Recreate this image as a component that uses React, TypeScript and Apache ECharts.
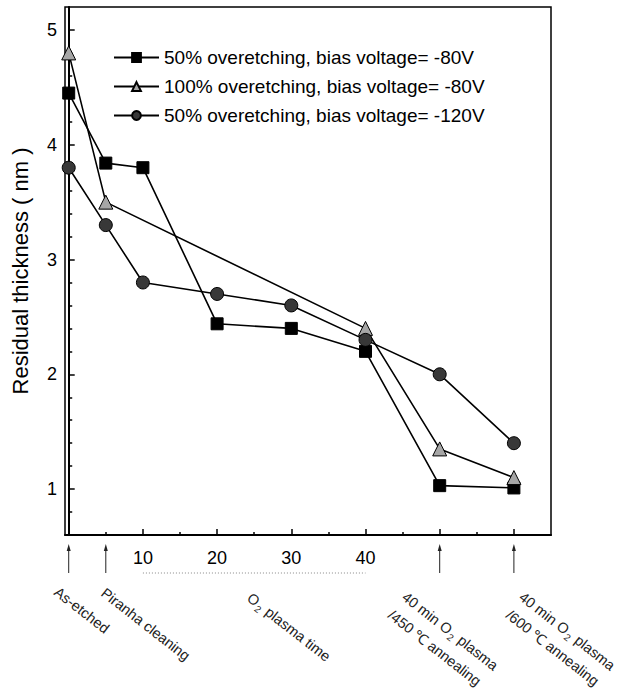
import React, { useEffect, useRef } from "react";
import * as echarts from "echarts";

const FONT = "'Liberation Sans', Arial, Helvetica, sans-serif";

// x positions of the process steps (0 = as-etched, 5 = piranha, 10..40 = O2 plasma time, 50/60 = annealed)
const xSteps = [0, 5, 10, 20, 30, 40, 50, 60];
const seriesNames = [
  "50% overetching, bias voltage= -80V",
  "100% overetching, bias voltage= -80V",
  "50% overetching, bias voltage= -120V",
];
const sq80 = [4.45, 3.84, 3.8, 2.44, 2.4, 2.2, 1.03, 1.01];
const triX = [0, 5, 40, 50, 60];
const tri80 = [4.8, 3.5, 2.4, 1.35, 1.1];
const circ120 = [3.8, 3.3, 2.8, 2.7, 2.6, 2.3, 2.0, 1.4];

const yMajor = [1, 2, 3, 4, 5];
const yMinor = [0.8, 1.2, 1.4, 1.6, 1.8, 2.2, 2.4, 2.6, 2.8, 3.2, 3.4, 3.6, 3.8, 4.2, 4.4, 4.6, 4.8];
const xMajorTicks = [0, 10, 20, 30, 40, 50, 60];
const xMinorTicks = [5, 15, 25, 35, 45, 55];
const xLabels = [10, 20, 30, 40];
const arrowSteps = [0, 5, 50, 60];
const plasmaRange = [10, 40];

const Y_MIN = 0.6;
const Y_MAX = 5.2;
const X_MIN = -0.5;
const X_MAX = 65;

export default function App() {
  const ref = useRef<HTMLDivElement>(null);
  useEffect(() => {
    if (!ref.current) return;
    const chart = echarts.init(ref.current, undefined, { renderer: "svg" });
    const lineStyle = { color: "#000", width: 1.6 };
    chart.setOption({
      animation: false,
      backgroundColor: "#fff",
      grid: {
        left: 65,
        right: 68,
        top: 7,
        bottom: 156,
        show: true,
        borderColor: "#000",
        borderWidth: 1.5,
        backgroundColor: "transparent",
      },
      legend: {
        orient: "vertical",
        left: 108,
        top: 43,
        itemWidth: 45,
        itemHeight: 11,
        itemGap: 10,
        data: seriesNames,
        textStyle: { fontSize: 19, fontFamily: FONT, color: "#000" },
      },
      xAxis: [
        {
          type: "value",
          min: X_MIN,
          max: X_MAX,
          position: "bottom",
          axisLine: { show: true, lineStyle: { color: "#000", width: 2 } },
          axisTick: { show: true, inside: true, length: 6, customValues: xMajorTicks, lineStyle: { color: "#000", width: 1.5 } },
          axisLabel: { customValues: xLabels, fontSize: 18, fontFamily: FONT, color: "#000", margin: 14 },
          splitLine: { show: false },
        },
        {
          type: "value",
          min: X_MIN,
          max: X_MAX,
          position: "bottom",
          axisLine: { show: false },
          axisTick: { show: true, inside: true, length: 3, customValues: xMinorTicks, lineStyle: { color: "#000", width: 1.5 } },
          axisLabel: { show: false },
          splitLine: { show: false },
        },
      ],
      yAxis: [
        {
          type: "value",
          min: Y_MIN,
          max: Y_MAX,
          position: "left",
          name: "Residual thickness ( nm )",
          nameLocation: "middle",
          nameGap: 34,
          nameTextStyle: { fontSize: 22, fontFamily: FONT, color: "#000" },
          axisLine: { show: true, lineStyle: { color: "#000", width: 2 } },
          axisTick: { show: true, inside: true, length: 6, customValues: yMajor, lineStyle: { color: "#000", width: 1.5 } },
          axisLabel: { customValues: yMajor, fontSize: 18, fontFamily: FONT, color: "#000", margin: 8 },
          splitLine: { show: false },
        },
        {
          type: "value",
          min: Y_MIN,
          max: Y_MAX,
          position: "left",
          axisLine: { show: false },
          axisTick: { show: true, inside: true, length: 3.5, customValues: yMinor, lineStyle: { color: "#000", width: 1.5 } },
          axisLabel: { show: false },
          splitLine: { show: false },
        },
      ],
      series: [
        {
          name: seriesNames[0],
          type: "line",
          data: sq80.map((v, i) => [xSteps[i], v]),
          symbol: "rect",
          symbolSize: 12,
          lineStyle,
          itemStyle: { color: "#000", borderColor: "#000", borderWidth: 1 },
          z: 3,
        },
        {
          name: seriesNames[1],
          type: "line",
          data: tri80.map((v, i) => [triX[i], v]),
          symbol: "triangle",
          symbolSize: 14,
          lineStyle,
          itemStyle: { color: "#a6a6a6", borderColor: "#000", borderWidth: 1 },
          z: 4,
        },
        {
          name: seriesNames[2],
          type: "line",
          data: circ120.map((v, i) => [xSteps[i], v]),
          symbol: "circle",
          symbolSize: 13,
          lineStyle,
          itemStyle: { color: "#383838", borderColor: "#000", borderWidth: 1 },
          z: 5,
        },
      ],
    });

    const px = (v: number) => chart.convertToPixel({ xAxisIndex: 0 }, v) as number;
    const graphics: any[] = [];
    arrowSteps.forEach((s) => {
      const x = px(s);
      graphics.push({
        type: "line",
        shape: { x1: x, y1: 573, x2: x, y2: 549 },
        style: { stroke: "#222", lineWidth: 1 },
        silent: true,
      });
      graphics.push({
        type: "polygon",
        shape: { points: [[x - 2, 551], [x + 2, 551], [x, 544]] },
        style: { fill: "#222" },
        silent: true,
      });
    });
    graphics.push({
      type: "line",
      shape: { x1: px(plasmaRange[0]), y1: 573, x2: px(plasmaRange[1]), y2: 573 },
      style: { stroke: "#888", lineWidth: 1, lineDash: [1, 2] },
      silent: true,
    });
    const rot = (-38 * Math.PI) / 180;
    const rich = {
      a: { fontSize: 14.5, fontFamily: FONT, fill: "#222" },
      s: { fontSize: 10, fontFamily: FONT, fill: "#222", padding: [10, 1, 0, 1] },
    };
    const addLabel = (x: number, y: number, text: string) => {
      graphics.push({
        type: "text",
        x,
        y,
        rotation: rot,
        silent: true,
        style: { text, rich, align: "left", verticalAlign: "middle", fill: "#222", fontSize: 14.5, fontFamily: FONT },
      });
    };
    addLabel(56, 590, "{a|As-etched}");
    addLabel(103, 591, "{a|Piranha cleaning}");
    addLabel(249, 596, "{a|O}{s|2}{a| plasma time}");
    addLabel(404, 595, "{a|40 min O}{s|2}{a| plasma}");
    addLabel(390, 613, "{a|/450 ℃ annealing}");
    addLabel(521, 595, "{a|40 min O}{s|2}{a| plasma}");
    addLabel(508, 613, "{a|/600 ℃ annealing}");
    chart.setOption({ graphic: graphics });

    return () => chart.dispose();
  }, []);
  return (
    <div
      ref={ref}
      style={{ position: "absolute", left: 0, top: 0, width: 619, height: 691 }}
    />
  );
}
